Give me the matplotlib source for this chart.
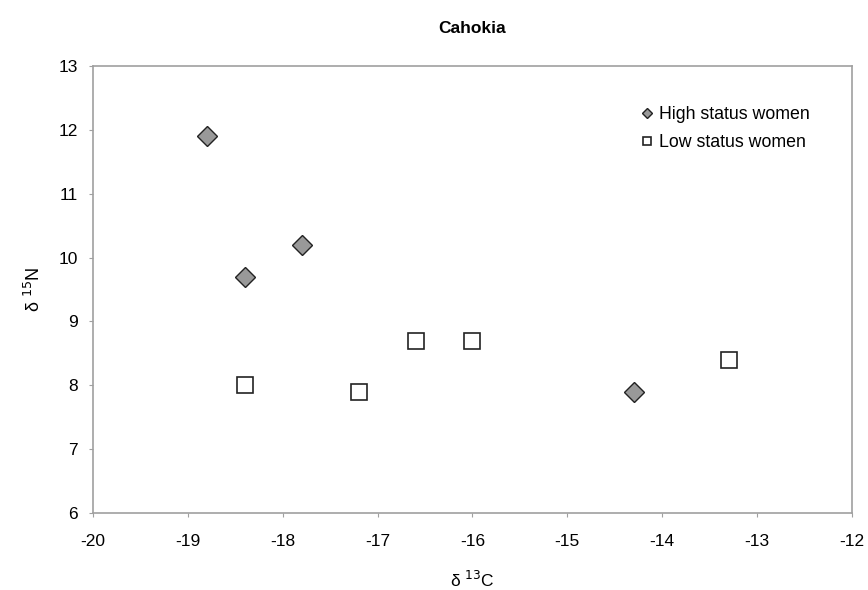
import matplotlib.pyplot as plt

# ------------------ DATA ------------------
high_c = [-18.8, -18.4, -17.8, -14.3]
high_n = [11.9, 9.7, 10.2, 7.9]
low_c = [-18.4, -17.2, -16.6, -16.0, -13.3]
low_n = [8.0, 7.9, 8.7, 8.7, 8.4]
x_ticks = [-20, -19, -18, -17, -16, -15, -14, -13, -12]
y_ticks = [6, 7, 8, 9, 10, 11, 12, 13]

# ------------------ PLOT ------------------
plt.rcParams["font.family"] = ["Liberation Sans", "DejaVu Sans"]
plt.rcParams["axes.unicode_minus"] = False
fig = plt.figure(figsize=(8.68, 5.9), dpi=100)
ax = fig.add_axes([0.107, 0.1305, 0.8746, 0.7575])

ax.plot(high_c, high_n, linestyle="none", marker="D", markersize=9.8,
        markerfacecolor="#999999", markeredgecolor="#222222",
        markeredgewidth=1.0, label="High status women")
ax.plot(low_c, low_n, linestyle="none", marker="s", markersize=11.5,
        markerfacecolor="white", markeredgecolor="#222222",
        markeredgewidth=1.2, label="Low status women")

ax.set_xlim(-20, -12)
ax.set_ylim(6, 13)
ax.set_xticks(x_ticks)
ax.set_yticks(y_ticks)
ax.tick_params(labelsize=12.5, length=3, color="#a0a0a0")
ax.tick_params(axis="x", pad=12)
ax.tick_params(axis="y", pad=8)
for s in ax.spines.values():
    s.set_color("#a0a0a0")
    s.set_linewidth(1.2)

ax.set_title("Cahokia", fontsize=12.5, fontweight="bold", pad=24)
ax.set_xlabel(r"δ $^{13}$C", fontsize=12.5, labelpad=15)
ax.set_ylabel(r"δ $^{15}$N", fontsize=13, labelpad=10)

leg = ax.legend(loc="upper right", bbox_to_anchor=(819 / 868, 1 - 97 / 590),
                bbox_transform=fig.transFigure, frameon=False, borderpad=0,
                fontsize=12.8, markerscale=0.5, handletextpad=0.25,
                handlelength=0.9, labelspacing=0.62)

plt.savefig("out.png", dpi=100)
plt.close()
